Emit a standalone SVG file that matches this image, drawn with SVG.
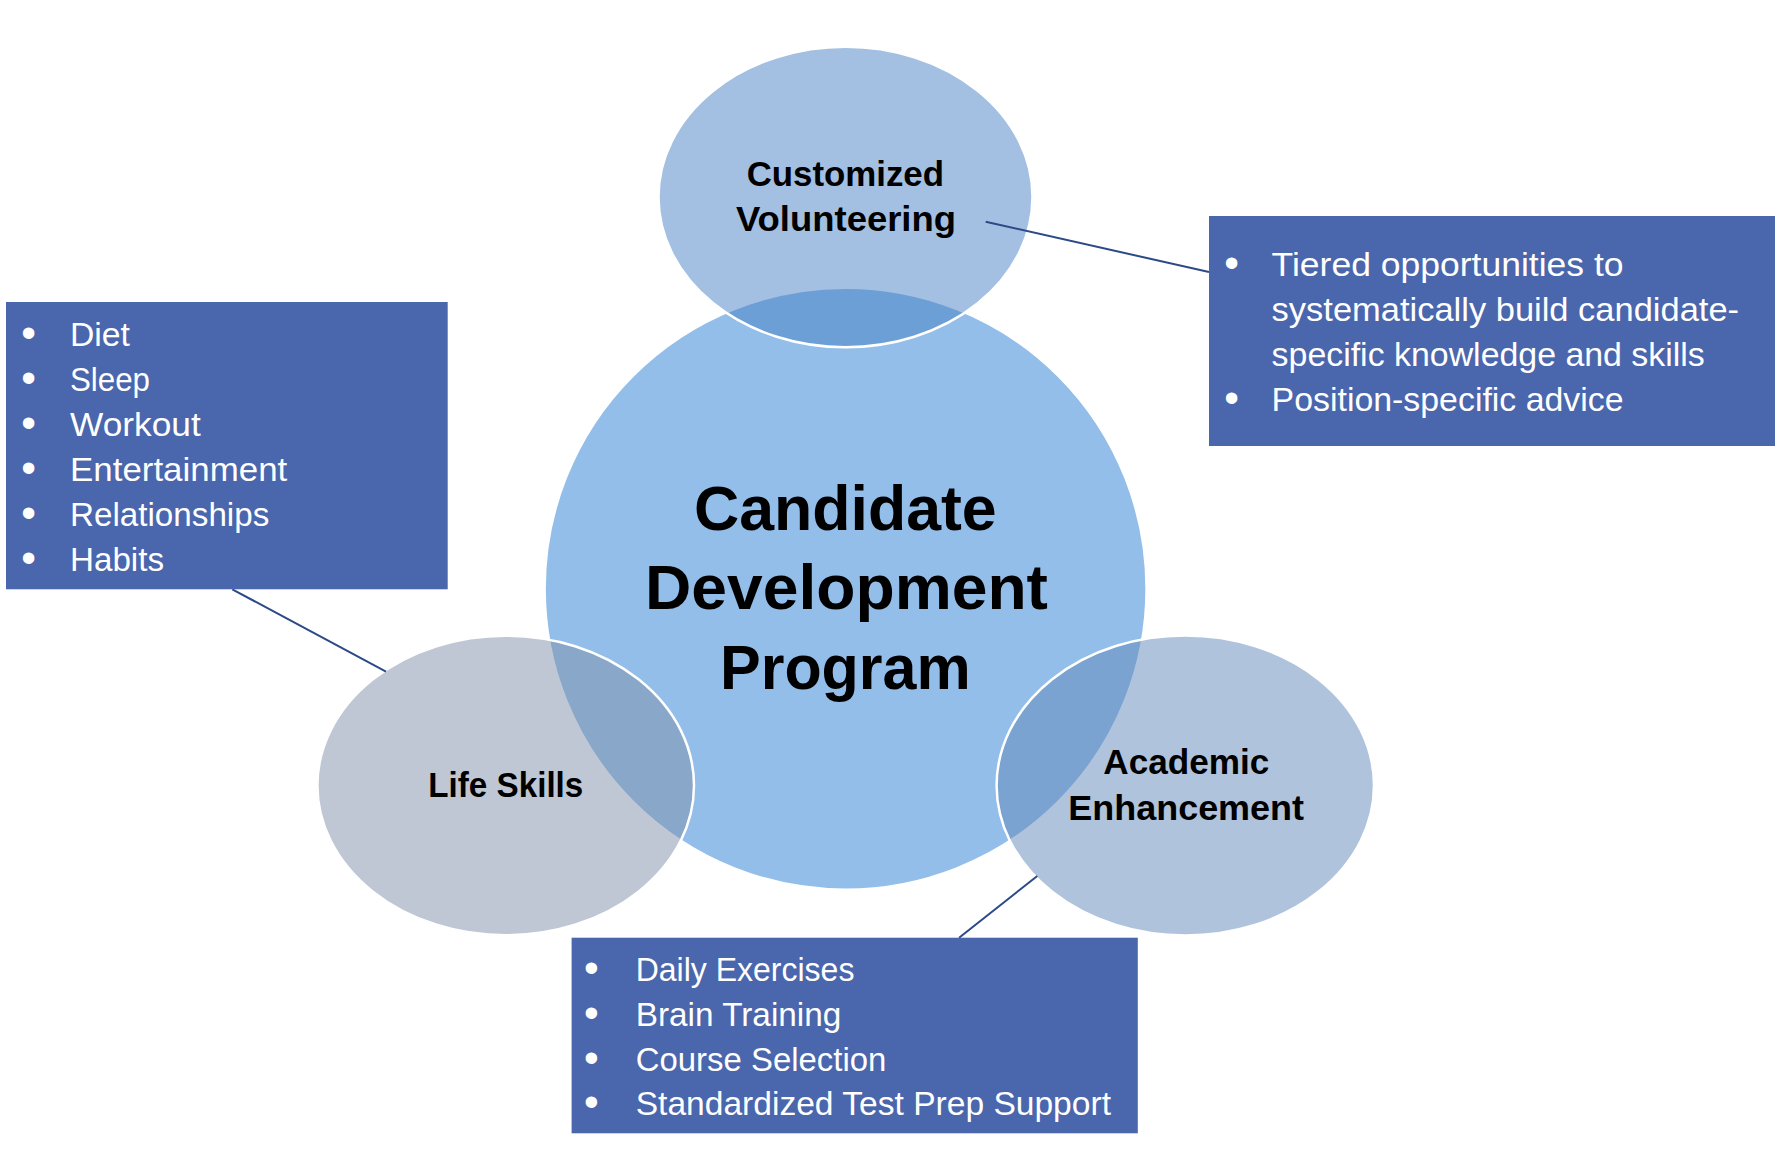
<svg xmlns="http://www.w3.org/2000/svg" width="1775" height="1149" viewBox="0 0 1775 1149">
  <style>
    .box { fill: #4A66AC; }
    .venn { stroke: #FFFFFF; stroke-width: 2.5; }
    .lbl { font-family: "Liberation Sans", Arial, sans-serif; font-weight: bold; fill: #000000; }
    .big { font-size: 63px; }
    .mid { font-size: 35px; }
    .item { font-family: "Liberation Sans", Arial, sans-serif; font-size: 34px; fill: #FFFFFF; }
    .bul { font-family: "Liberation Sans", Arial, sans-serif; font-size: 42px; fill: #FFFFFF; text-anchor: middle; }
    .conn { stroke: #2C4A87; stroke-width: 2; fill: none; }
  </style>
  <rect width="1775" height="1149" fill="#FFFFFF"/>

  <g id="center">
    <circle cx="845.6" cy="588.7" r="301" fill="#93BEE9" class="venn"/>
  </g>

  <g id="customized-volunteering">
    <ellipse cx="845.5" cy="197" rx="187" ry="150.3" fill="#477FC5" fill-opacity="0.5" class="venn"/>
    <text class="lbl mid" x="746.7" y="186" textLength="197.3" lengthAdjust="spacingAndGlyphs">Customized</text>
    <text class="lbl mid" x="736" y="231" textLength="220" lengthAdjust="spacingAndGlyphs">Volunteering</text>
  </g>

  <g id="life-skills">
    <ellipse cx="505.7" cy="785.5" rx="188.3" ry="149.8" fill="#7F8FA9" fill-opacity="0.5" class="venn"/>
    <text class="lbl mid" x="428.3" y="796.7" textLength="155" lengthAdjust="spacingAndGlyphs">Life Skills</text>
  </g>

  <g id="academic-enhancement">
    <ellipse cx="1185.3" cy="785.5" rx="188.7" ry="150" fill="#6187B9" fill-opacity="0.5" class="venn"/>
    <text class="lbl mid" x="1103.3" y="774.3" textLength="166" lengthAdjust="spacingAndGlyphs">Academic</text>
    <text class="lbl mid" x="1068.3" y="820" textLength="235.7" lengthAdjust="spacingAndGlyphs">Enhancement</text>
  </g>

  <g id="center-label">
    <text class="lbl big" x="694" y="529.5" textLength="302.7" lengthAdjust="spacingAndGlyphs">Candidate</text>
    <text class="lbl big" x="645" y="609.3" textLength="403" lengthAdjust="spacingAndGlyphs">Development</text>
    <text class="lbl big" x="720" y="689.3" textLength="250.7" lengthAdjust="spacingAndGlyphs">Program</text>
  </g>

  <g id="connectors">
    <line class="conn" x1="985.7" y1="221.7" x2="1209" y2="272"/>
    <line class="conn" x1="232.3" y1="589.3" x2="386" y2="671.7"/>
    <line class="conn" x1="959.1" y1="937.7" x2="1037.3" y2="876"/>
  </g>

  <g id="life-skills-box">
    <rect class="box" x="6" y="302" width="441.7" height="287.3"/>
    <text class="bul" x="28.5" y="347">•</text>
    <text class="bul" x="28.5" y="392">•</text>
    <text class="bul" x="28.5" y="437">•</text>
    <text class="bul" x="28.5" y="482">•</text>
    <text class="bul" x="28.5" y="527">•</text>
    <text class="bul" x="28.5" y="572">•</text>
    <text class="item" x="70" y="345.7" textLength="60" lengthAdjust="spacingAndGlyphs">Diet</text>
    <text class="item" x="70" y="390.7" textLength="80" lengthAdjust="spacingAndGlyphs">Sleep</text>
    <text class="item" x="70" y="435.7" textLength="130.7" lengthAdjust="spacingAndGlyphs">Workout</text>
    <text class="item" x="70" y="480.7" textLength="217.3" lengthAdjust="spacingAndGlyphs">Entertainment</text>
    <text class="item" x="70" y="526" textLength="199.3" lengthAdjust="spacingAndGlyphs">Relationships</text>
    <text class="item" x="70" y="570.7" textLength="94" lengthAdjust="spacingAndGlyphs">Habits</text>
  </g>

  <g id="volunteering-box">
    <rect class="box" x="1209" y="216" width="566" height="230"/>
    <text class="bul" x="1231.7" y="277">•</text>
    <text class="bul" x="1231.7" y="412">•</text>
    <text class="item" x="1271.6" y="275.7" textLength="352" lengthAdjust="spacingAndGlyphs">Tiered opportunities to</text>
    <text class="item" x="1271.6" y="320.7" textLength="467.5" lengthAdjust="spacingAndGlyphs">systematically build candidate-</text>
    <text class="item" x="1271.6" y="365.7" textLength="433.2" lengthAdjust="spacingAndGlyphs">specific knowledge and skills</text>
    <text class="item" x="1271.6" y="410.7" textLength="352" lengthAdjust="spacingAndGlyphs">Position-specific advice</text>
  </g>

  <g id="academic-box">
    <rect class="box" x="571.6" y="937.7" width="566.2" height="195.6"/>
    <text class="bul" x="591.4" y="982.3">•</text>
    <text class="bul" x="591.4" y="1027.3">•</text>
    <text class="bul" x="591.4" y="1072.3">•</text>
    <text class="bul" x="591.4" y="1116.3">•</text>
    <text class="item" x="635.7" y="981" textLength="218.7" lengthAdjust="spacingAndGlyphs">Daily Exercises</text>
    <text class="item" x="635.7" y="1026" textLength="205.6" lengthAdjust="spacingAndGlyphs">Brain Training</text>
    <text class="item" x="635.7" y="1071" textLength="250.7" lengthAdjust="spacingAndGlyphs">Course Selection</text>
    <text class="item" x="635.7" y="1115" textLength="475.3" lengthAdjust="spacingAndGlyphs">Standardized Test Prep Support</text>
  </g>
</svg>
